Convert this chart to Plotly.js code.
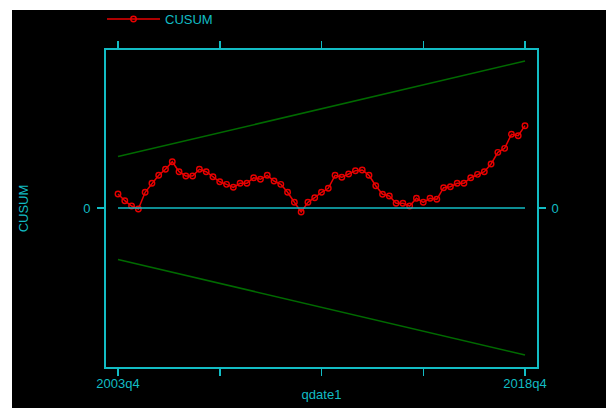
<!DOCTYPE html>
<html>
<head>
<meta charset="utf-8">
<script src="https://cdn.plot.ly/plotly-3.0.1.min.js"></script>
<style>
html,body{margin:0;padding:0;background:#ffffff;}
#chart{position:absolute;left:12px;top:10px;width:594px;height:398px;}
</style>
</head>
<body>
<div id="chart"></div>
<script>
// Quarter index 0 = 2003q4 ... 60 = 2018q4
const quarterIndex = Array.from({length: 61}, (_, i) => i);
const tickVals = [0, 15, 30, 45, 60];
const tickText = ['2003q4', '', '', '', '2018q4'];

const cusum = [
  2.03, 1.06, 0.29, -0.14, 2.28, 3.58, 4.74, 5.61, 6.71, 5.26,
  4.64, 4.64, 5.61, 5.26, 4.54, 3.81, 3.43, 3.00, 3.58, 3.58,
  4.39, 4.16, 4.74, 3.91, 3.43, 2.28, 0.83, -0.58, 0.83, 1.49,
  2.28, 2.86, 4.74, 4.45, 4.93, 5.41, 5.51, 4.74, 3.23, 1.99,
  1.74, 0.68, 0.68, 0.29, 1.41, 0.83, 1.41, 1.26, 2.94, 3.09,
  3.58, 3.58, 4.39, 4.88, 5.26, 6.38, 8.07, 8.65, 10.68, 10.48,
  11.93
];
const boundX = [0, 60];
const upperBound = [7.46, 21.3];
const lowerBound = [-7.46, -21.3];
const zeroLineY = [0, 0];

const CYAN = '#12bcc4';
const RED = '#e80000';
const GREEN = '#006a00';
const FONT = 'Liberation Sans, Arial, sans-serif';
const FS = 13;
const yRange = [-23.04, 22.9];

const traces = [
  {x: boundX, y: upperBound, mode: 'lines', line: {color: GREEN, width: 1.5}, showlegend: false, hoverinfo: 'skip'},
  {x: boundX, y: lowerBound, mode: 'lines', line: {color: GREEN, width: 1.5}, showlegend: false, hoverinfo: 'skip'},
  {x: boundX, y: zeroLineY, yaxis: 'y2', mode: 'lines', line: {color: CYAN, width: 1.6}, showlegend: false, hoverinfo: 'skip'},
  {x: quarterIndex, y: cusum, name: 'CUSUM', mode: 'lines+markers',
   line: {color: RED, width: 1.5},
   marker: {symbol: 'circle-open', size: 5.5, color: RED, line: {width: 1.4, color: RED}}}
];

const layout = {
  width: 594, height: 398,
  paper_bgcolor: '#000000', plot_bgcolor: '#000000',
  margin: {l: 94, r: 69, t: 40, b: 41},
  font: {family: FONT, size: FS, color: CYAN},
  showlegend: true,
  legend: {
    xref: 'container', yref: 'container',
    x: 90/594, xanchor: 'left', y: 1 - 9/398, yanchor: 'middle',
    orientation: 'h', itemwidth: 53,
    font: {family: FONT, size: FS, color: CYAN},
    bgcolor: 'rgba(0,0,0,0)'
  },
  xaxis: {
    range: [-1.77, 61.77], tickmode: 'array', tickvals: tickVals, ticktext: tickText,
    showgrid: false, zeroline: false,
    showline: true, linecolor: CYAN, linewidth: 2, mirror: 'ticks',
    ticks: 'outside', ticklen: 7, tickwidth: 1.5, tickcolor: CYAN,
    tickfont: {family: FONT, size: FS, color: CYAN},
    ticklabelstandoff: -4,
    title: {text: 'qdate1', font: {family: FONT, size: FS, color: CYAN}, standoff: 0}
  },
  yaxis: {
    range: yRange, tickmode: 'array', tickvals: [0], ticktext: ['0'],
    showgrid: false, zeroline: false,
    showline: true, linecolor: CYAN, linewidth: 2, mirror: 'ticks',
    ticks: 'outside', ticklen: 7, tickwidth: 1.5, tickcolor: CYAN,
    tickfont: {family: FONT, size: FS, color: CYAN},
    ticklabelstandoff: 4,
    title: {text: 'CUSUM', font: {family: FONT, size: FS, color: CYAN}, standoff: 52}
  },
  yaxis2: {
    range: yRange, overlaying: 'y', side: 'right',
    tickmode: 'array', tickvals: [0], ticktext: ['0'],
    showgrid: false, zeroline: false, showline: false,
    ticks: 'outside', ticklen: 7, tickwidth: 1.5, tickcolor: CYAN,
    tickfont: {family: FONT, size: FS, color: CYAN},
    ticklabelstandoff: 4
  }
};

Plotly.newPlot('chart', traces, layout, {displayModeBar: false, staticPlot: true});
</script>
</body>
</html>
